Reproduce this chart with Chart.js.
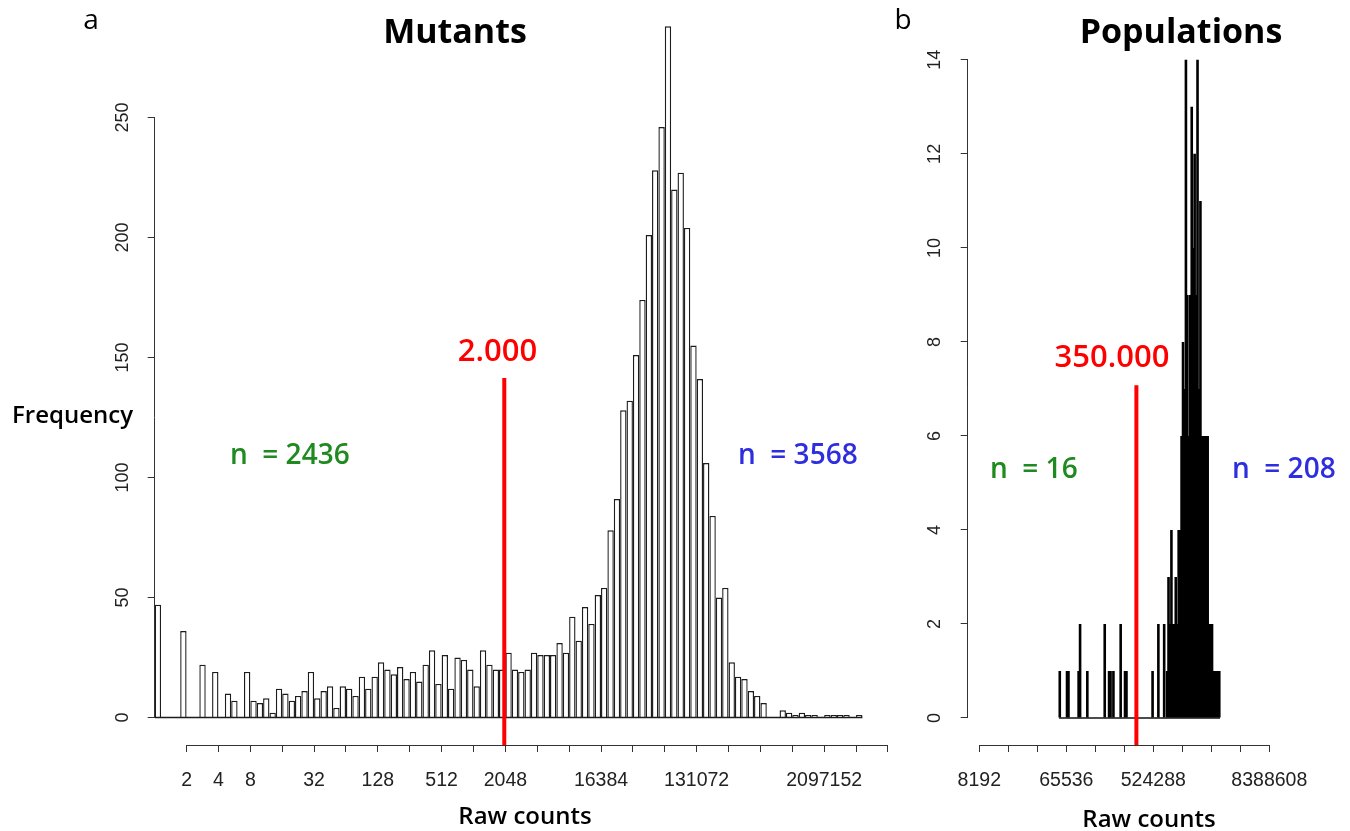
<!DOCTYPE html>
<html>
<head>
<meta charset="utf-8">
<script src="https://cdn.jsdelivr.net/npm/chart.js@4.4.1/dist/chart.umd.min.js"></script>
<style>
html,body{margin:0;padding:0;background:#ffffff;width:1350px;height:831px;overflow:hidden;}
#wrap{position:relative;width:1350px;height:831px;background:#ffffff;}
canvas{position:absolute;top:0;}
#chartA{left:0;}
#chartB{left:880px;}
</style>
</head>
<body>
<div id="wrap">
<canvas id="chartA" width="905" height="831"></canvas>
<canvas id="chartB" width="470" height="831"></canvas>
</div>
<script>
// ---------------- Panel a : Mutants (x = log2 of raw counts, bins of 0.2) ----------------
const mutantBinLeft = [
  0.0,0.2,0.4,0.6,0.8,1.0,1.2,1.4,1.6,1.8,
  2.0,2.2,2.4,2.6,2.8,3.0,3.2,3.4,3.6,3.8,
  4.0,4.2,4.4,4.6,4.8,5.0,5.2,5.4,5.6,5.8,
  6.0,6.2,6.4,6.6,6.8,7.0,7.2,7.4,7.6,7.8,
  8.0,8.2,8.4,8.6,8.8,9.0,9.2,9.4,9.6,9.8,
  10.0,10.2,10.4,10.6,10.8,11.0,11.2,11.4,11.6,11.8,
  12.0,12.2,12.4,12.6,12.8,13.0,13.2,13.4,13.6,13.8,
  14.0,14.2,14.4,14.6,14.8,15.0,15.2,15.4,15.6,15.8,
  16.0,16.2,16.4,16.6,16.8,17.0,17.2,17.4,17.6,17.8,
  18.0,18.2,18.4,18.6,18.8,19.0,19.2,19.4,19.6,19.8,
  20.0,20.2,20.4,20.6,20.8,21.0,21.2,21.4,21.6,21.8,
  22.0
];
const mutantFreq = [
  47,0,0,0,36,0,0,22,0,19,
  0,10,7,0,19,7,6,8,2,12,
  10,7,9,11,19,8,11,13,4,13,
  12,9,17,12,17,23,20,18,21,16,
  19,15,22,28,14,26,12,25,24,20,
  13,28,22,20,20,27,20,19,20,27,
  26,26,26,31,27,42,32,46,39,51,
  54,78,91,128,132,151,174,201,228,246,
  288,220,227,204,155,141,106,84,50,54,
  23,17,16,11,9,6,0,0,3,2,
  1,2,1,1,0,1,1,1,1,0,
  1
];
const mutantBinWidth = 0.2;
const mutantXTickPowers = [1,2,3,4,5,6,7,8,9,10,11,12,13,14,15,16,17,18,19,20,21,22,23];
const mutantXLabelPowers = [1,2,3,5,7,9,11,14,17,21];
const mutantXLabels = ['2','4','8','32','128','512','2048','16384','131072','2097152'];
const mutantYTicks = [0,50,100,150,200,250];
const mutantThreshold = 2000;        // red line, raw counts
const mutantThresholdTop = 141.5;    // top of red line (frequency units)
const mutantNLabels = ['n  = 2436','n  = 3568'];

// ---------------- Panel b : Populations (x = log2 of raw counts, bins of 0.05) ----------------
const popBinLeft = [
  15.75,16.00,16.05,16.40,16.45,16.70,17.30,17.45,17.50,17.60,17.85,18.00,18.05,
  18.95,19.15,19.35,19.45,19.50,19.55,19.60,19.65,19.70,19.75,19.80,19.85,19.90,
  19.95,20.00,20.05,20.10,20.15,20.20,20.25,20.30,20.35,20.40,20.45,20.50,20.55,
  20.60,20.65,20.70,20.75,20.80,20.85,20.90,20.95,21.00,21.05,21.10,21.15,21.20,21.25
];
const popFreq = [
  1,1,1,1,2,1,2,1,1,1,2,1,1,
  1,2,2,1,3,2,4,2,2,3,2,4,4,
  6,8,7,14,9,6,9,13,10,12,9,14,7,
  11,6,6,6,6,6,2,2,2,1,1,1,1,1
];
const popBinWidth = 0.05;
const popBreaksRange = [15.75, 21.30];
const popXTickPowers = [13,14,15,16,17,18,19,20,21,22,23];
const popXLabelPowers = [13,16,19,23];
const popXLabels = ['8192','65536','524288','8388608'];
const popYTicks = [0,2,4,6,8,10,12,14];
const popThreshold = 350000;
const popThresholdTop = 7.08;
const popNLabels = ['n  = 16','n  = 208'];

// ---------------- styles ----------------
const AXIS_COLOR = '#333333';
const TICK_TEXT = '#222222';
const BAR_EDGE = '#1c1c1c';
const RED = '#ff0000';
const GREEN = '#1f8a1f';
const BLUE = '#2e2ee0';
const TICK_FONT = 'Liberation Sans, Arial, sans-serif';
const ANN_FONT = '"Open Sans", "Noto Sans", sans-serif';

function alignPx(p) { return Math.round(p - 0.5) + 0.5; }

function rAxesPlugin(cfg) {
  return {
    id: 'rAxes_' + cfg.name,
    afterDraw(chart) {
      const ctx = chart.ctx, xs = chart.scales.x, ys = chart.scales.y, ca = chart.chartArea;
      ctx.save();
      ctx.strokeStyle = AXIS_COLOR;
      ctx.lineWidth = 1;
      const xa = alignPx(ca.left);
      ctx.beginPath();
      ctx.moveTo(xa, ys.getPixelForValue(cfg.yTicks[0]));
      ctx.lineTo(xa, ys.getPixelForValue(cfg.yTicks[cfg.yTicks.length - 1]));
      ctx.stroke();
      const ya = alignPx(ca.bottom);
      ctx.beginPath();
      ctx.moveTo(xs.getPixelForValue(cfg.xTicks[0]), ya);
      ctx.lineTo(xs.getPixelForValue(cfg.xTicks[cfg.xTicks.length - 1]), ya);
      ctx.stroke();
      // rotated y tick labels (R style)
      ctx.fillStyle = TICK_TEXT;
      ctx.font = cfg.yTickFont;
      ctx.textAlign = 'center';
      ctx.textBaseline = 'middle';
      cfg.yTicks.forEach(v => {
        ctx.save();
        ctx.translate(ca.left - cfg.yLabelGap, ys.getPixelForValue(v));
        ctx.rotate(-Math.PI / 2);
        ctx.fillText(String(v), 0, 0);
        ctx.restore();
      });
      // annotations
      cfg.texts.forEach(t => {
        ctx.font = t.font;
        ctx.fillStyle = t.color;
        ctx.textAlign = t.align;
        ctx.textBaseline = 'alphabetic';
        ctx.fillText(t.text, t.x, t.y);
      });
      ctx.restore();
    }
  };
}

function makeXScale(min, max, tickPowers, labelPowers, labels) {
  return {
    type: 'linear', min: min, max: max, offset: false,
    grid: { display: true, drawOnChartArea: false, drawTicks: true, tickLength: 7, color: AXIS_COLOR, lineWidth: 1, offset: false },
    border: { display: false },
    ticks: {
      autoSkip: false, maxRotation: 0, minRotation: 0, padding: 17,
      color: TICK_TEXT, font: { family: TICK_FONT, size: 19.5 },
      callback: (value) => { const i = labelPowers.indexOf(value); return i >= 0 ? labels[i] : ''; }
    },
    afterBuildTicks: (scale) => { scale.ticks = tickPowers.map(v => ({ value: v })); },
    afterFit: (scale) => { scale.height = 86; }
  };
}

function makeYScale(min, max, yTicks, width) {
  return {
    type: 'linear', min: min, max: max,
    grid: { display: true, drawOnChartArea: false, drawTicks: true, tickLength: 7, color: AXIS_COLOR, lineWidth: 1 },
    border: { display: false },
    ticks: { display: false },
    afterBuildTicks: (scale) => { scale.ticks = yTicks.map(v => ({ value: v })); },
    afterFit: (scale) => { scale.width = width; }
  };
}

// ---------------- Chart a ----------------
const mutantLog = Math.log2(mutantThreshold);
const chartA = new Chart(document.getElementById('chartA'), {
  type: 'bar',
  data: {
    datasets: [
      {
        type: 'line', order: 0,
        data: [{ x: mutantLog, y: mutantThresholdTop }, { x: mutantLog, y: -11.46 }],
        borderColor: RED, borderWidth: 4, pointRadius: 0, borderCapStyle: 'butt', clip: false
      },
      {
        type: 'line', order: 1,
        data: [{ x: mutantBinLeft[0], y: 0 }, { x: mutantBinLeft[mutantBinLeft.length - 1] + mutantBinWidth, y: 0 }],
        borderColor: BAR_EDGE, borderWidth: 1.4, pointRadius: 0
      },
      {
        type: 'bar', order: 2,
        data: mutantBinLeft.map((l, i) => ({ x: l + mutantBinWidth / 2, y: mutantFreq[i] })),
        backgroundColor: '#ffffff', borderColor: BAR_EDGE, borderWidth: 1.4,
        borderSkipped: 'start', barPercentage: 1, categoryPercentage: 1, inflateAmount: 0
      }
    ]
  },
  options: {
    responsive: false, animation: false, devicePixelRatio: 1,
    layout: { padding: { left: 0, right: 4.7, top: 0, bottom: 0 } },
    plugins: { legend: { display: false }, tooltip: { enabled: false }, title: { display: false } },
    scales: {
      x: makeXScale(0, 23.3, mutantXTickPowers, mutantXLabelPowers, mutantXLabels),
      y: makeYScale(-11.46, 298.96, mutantYTicks, 154.7)
    }
  },
  plugins: [rAxesPlugin({
    name: 'a', yTicks: mutantYTicks, xTicks: mutantXTickPowers, yLabelGap: 32,
    yTickFont: '18px ' + TICK_FONT,
    texts: [
      { text: 'a', x: 91, y: 29, font: '400 28px ' + ANN_FONT, color: '#000', align: 'center' },
      { text: 'Mutants', x: 455, y: 43, font: '700 34px ' + ANN_FONT, color: '#000', align: 'center' },
      { text: 'Frequency', x: 12, y: 423, font: '600 24px ' + ANN_FONT, color: '#000', align: 'left' },
      { text: 'Raw counts', x: 525, y: 824, font: '600 24px ' + ANN_FONT, color: '#000', align: 'center' },
      { text: mutantNLabels[0], x: 230, y: 464, font: '600 28px ' + ANN_FONT, color: GREEN, align: 'left' },
      { text: mutantNLabels[1], x: 738, y: 464, font: '600 28px ' + ANN_FONT, color: BLUE, align: 'left' },
      { text: '2.000', x: 497.5, y: 361, font: '600 31px ' + ANN_FONT, color: RED, align: 'center' }
    ]
  })]
});

// ---------------- Chart b ----------------
const popLog = Math.log2(popThreshold);
const chartB = new Chart(document.getElementById('chartB'), {
  type: 'bar',
  data: {
    datasets: [
      {
        type: 'line', order: 0,
        data: [{ x: popLog, y: popThresholdTop }, { x: popLog, y: -0.575 }],
        borderColor: RED, borderWidth: 4, pointRadius: 0, borderCapStyle: 'butt', clip: false
      },
      {
        type: 'line', order: 1,
        data: [{ x: popBreaksRange[0], y: 0 }, { x: popBreaksRange[1], y: 0 }],
        borderColor: '#111', borderWidth: 1.5, pointRadius: 0
      },
      {
        type: 'bar', order: 2,
        data: popBinLeft.map((l, i) => ({ x: l + popBinWidth / 2, y: popFreq[i] })),
        backgroundColor: '#000000', borderColor: '#000000', borderWidth: 0,
        barPercentage: 1.8, categoryPercentage: 1, inflateAmount: 0
      }
    ]
  },
  options: {
    responsive: false, animation: false, devicePixelRatio: 1,
    layout: { padding: { left: 0, right: 69.1, top: 34, bottom: 0 } },
    plugins: { legend: { display: false }, tooltip: { enabled: false }, title: { display: false } },
    scales: {
      x: makeXScale(12.6, 23.4, popXTickPowers, popXLabelPowers, popXLabels),
      y: makeYScale(-0.575, 14.55, popYTicks, 87.7)
    }
  },
  plugins: [rAxesPlugin({
    name: 'b', yTicks: popYTicks, xTicks: popXTickPowers, yLabelGap: 32.5,
    yTickFont: '18px ' + TICK_FONT,
    texts: [
      { text: 'b', x: 23, y: 29, font: '400 28px ' + ANN_FONT, color: '#000', align: 'center' },
      { text: 'Populations', x: 301, y: 43, font: '700 34px ' + ANN_FONT, color: '#000', align: 'center' },
      { text: 'Raw counts', x: 269, y: 827, font: '600 24px ' + ANN_FONT, color: '#000', align: 'center' },
      { text: popNLabels[0], x: 110, y: 478, font: '600 28px ' + ANN_FONT, color: GREEN, align: 'left' },
      { text: popNLabels[1], x: 352, y: 478, font: '600 28px ' + ANN_FONT, color: BLUE, align: 'left' },
      { text: '350.000', x: 232, y: 367, font: '600 31px ' + ANN_FONT, color: RED, align: 'center' }
    ]
  })]
});
</script>
</body>
</html>
